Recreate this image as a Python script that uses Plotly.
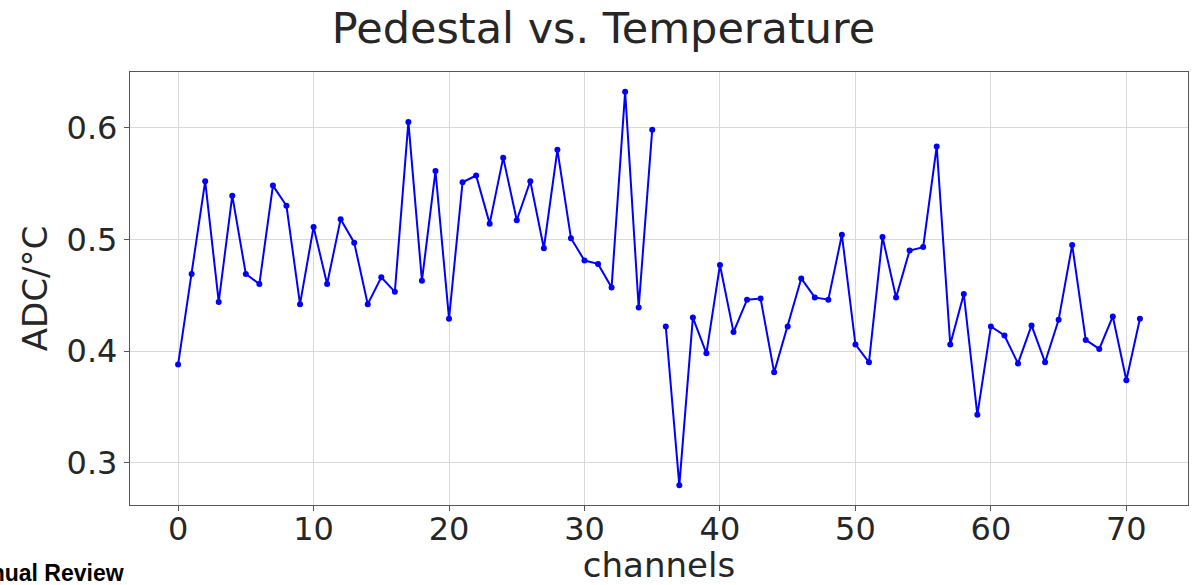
import plotly.graph_objects as go

channels = list(range(72))
adc_per_c = [
    0.388, 0.469, 0.552, 0.444, 0.539, 0.469, 0.460, 0.548, 0.530, 0.442,
    0.511, 0.460, 0.518, 0.497, 0.442, 0.466, 0.453, 0.605, 0.463, 0.561,
    0.429, 0.551, 0.557, 0.514, 0.573, 0.517, 0.552, 0.492, 0.580, 0.501,
    0.481, 0.478, 0.457, 0.632, 0.439, 0.598, 0.422, 0.280, 0.430, 0.398,
    0.477, 0.417, 0.446, 0.447, 0.381, 0.422, 0.465, 0.448, 0.446, 0.504,
    0.406, 0.390, 0.502, 0.448, 0.490, 0.493, 0.583, 0.406, 0.451, 0.343,
    0.422, 0.414, 0.389, 0.423, 0.390, 0.428, 0.495, 0.410, 0.402, 0.431,
    0.374, 0.429,
]
break_after = 35  # line is interrupted between channel 35 and 36

x_ticks = [0, 10, 20, 30, 40, 50, 60, 70]
y_ticks = [0.3, 0.4, 0.5, 0.6]
y_tick_labels = ["0.3", "0.4", "0.5", "0.6"]

TEXT = "#262626"
FONT = "DejaVu Sans"

fig = go.Figure()
segments = [(0, break_after + 1), (break_after + 1, len(channels))]
for a, b in segments:
    fig.add_trace(go.Scatter(
        x=channels[a:b], y=adc_per_c[a:b],
        mode="lines+markers",
        line=dict(color="#0000ff", width=2),
        marker=dict(color="#0000ff", size=6),
        showlegend=False,
    ))

fig.update_layout(
    width=1194, height=585,
    margin=dict(l=130, r=6, t=72, b=80),
    paper_bgcolor="white", plot_bgcolor="white",
    font=dict(family=FONT, color=TEXT),
    title=dict(text="Pedestal vs. Temperature", x=603.5 / 1194, xanchor="center",
               y=1 - 28 / 585, yanchor="middle",
               font=dict(size=43, family=FONT, color=TEXT)),
    xaxis=dict(
        range=[-3.55, 74.55], tickvals=x_ticks, automargin=False,
        tickfont=dict(size=32, family=FONT, color=TEXT),
        ticks="outside", ticklen=5, tickcolor="#555555",
        ticklabelstandoff=-10,
        showgrid=True, gridcolor="#d9d9d9", gridwidth=1,
        showline=True, linecolor="#555555", linewidth=1.3, mirror=True,
        zeroline=False,
        title=dict(text="channels", font=dict(size=34, family=FONT, color=TEXT), standoff=0),
    ),
    yaxis=dict(
        range=[0.2624, 0.6496], tickvals=y_ticks, ticktext=y_tick_labels, automargin=False,
        tickfont=dict(size=32, family=FONT, color=TEXT),
        ticks="outside", ticklen=5, tickcolor="#555555",
        showgrid=True, gridcolor="#d9d9d9", gridwidth=1,
        showline=True, linecolor="#555555", linewidth=1.3, mirror=True,
        zeroline=False,
        title=dict(text="ADC/°C", font=dict(size=34, family=FONT, color=TEXT), standoff=8),
    ),
    annotations=[dict(
        text="<b>Annual Review</b>", xref="paper", yref="paper",
        x=(126 - 130) / 1058, y=(505 - 573) / 433,
        xanchor="right", yanchor="middle", showarrow=False,
        font=dict(family="Liberation Sans", size=23, color="black"),
    )],
)

fig.write_html("out.html")
